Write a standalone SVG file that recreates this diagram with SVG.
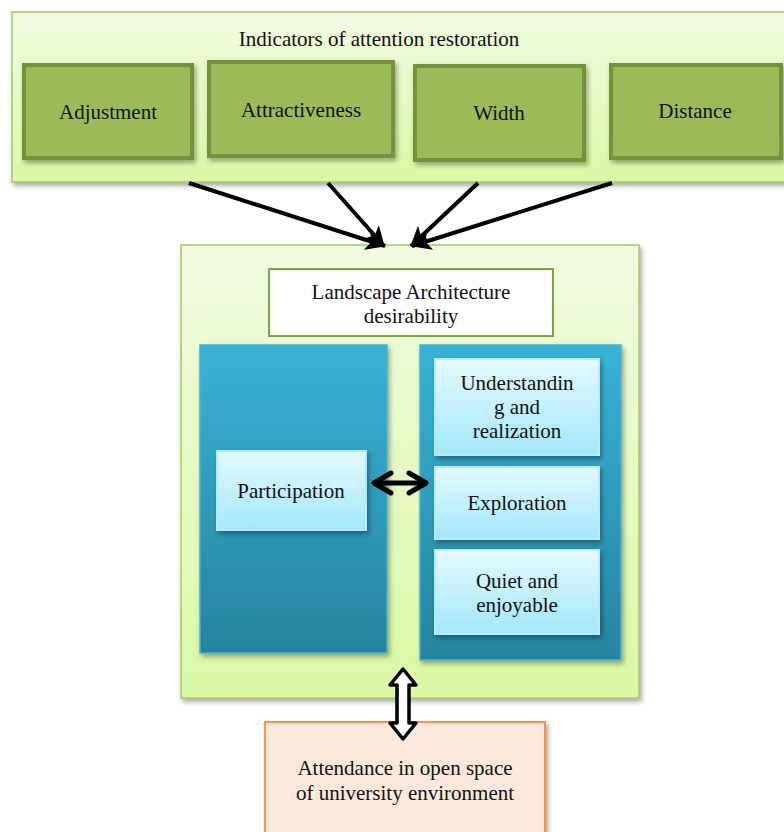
<svg xmlns="http://www.w3.org/2000/svg" width="784" height="832" viewBox="0 0 784 832">
<defs>
<linearGradient id="gGreen" x1="0" y1="0" x2="0" y2="1"><stop offset="0" stop-color="#f1fbe1"/><stop offset="1" stop-color="#daf9a4"/></linearGradient>
<linearGradient id="gBlue" x1="0" y1="0" x2="0" y2="1"><stop offset="0" stop-color="#38b3d7"/><stop offset="1" stop-color="#26839f"/></linearGradient>
<linearGradient id="gLight" x1="0" y1="0" x2="0" y2="1"><stop offset="0" stop-color="#e4f9ff"/><stop offset="1" stop-color="#a3e8fb"/></linearGradient>
<filter id="sh" x="-10%" y="-10%" width="130%" height="130%"><feDropShadow dx="2" dy="3" stdDeviation="2.5" flood-color="#000" flood-opacity="0.35"/></filter>
<marker id="ah" viewBox="0 0 10 10" refX="9.5" refY="5" markerWidth="5" markerHeight="5" orient="auto" markerUnits="strokeWidth"><path d="M0,0 L10,5 L0,10 L2.5,5 Z" fill="#000"/></marker>
</defs>
<style>
text{font-family:"Liberation Serif","Times New Roman",serif;font-size:21px;fill:#111;text-anchor:middle}
.cont{fill:url(#gGreen);stroke:#a3c86a;stroke-width:1.5}
.ind{fill:#9bbb59;stroke:#75913b;stroke-width:4}
.blue{fill:url(#gBlue);stroke:#4cb0cc;stroke-width:1.5}
.lt{fill:url(#gLight);stroke:#b6ecfa;stroke-width:2}
.conn{stroke:#000;stroke-width:4;fill:none}
</style>
<g id="indicators">
<rect class="cont" x="12" y="12" width="780" height="170" filter="url(#sh)"/>
<text x="379" y="46">Indicators of attention restoration</text>
</g>
<g id="adjustment"><rect class="ind" x="24" y="65" width="168" height="93" filter="url(#sh)"/><text x="108" y="119">Adjustment</text></g>
<g id="attractiveness"><rect class="ind" x="209" y="62" width="184" height="94" filter="url(#sh)"/><text x="301" y="117">Attractiveness</text></g>
<g id="width"><rect class="ind" x="415" y="66" width="169" height="94" filter="url(#sh)"/><text x="499" y="120">Width</text></g>
<g id="distance"><rect class="ind" x="611" y="65" width="170" height="93" filter="url(#sh)"/><text x="695" y="118">Distance</text></g>
<g id="desirability-container">
<rect class="cont" x="181" y="245" width="458" height="453" filter="url(#sh)"/>
</g>
<g id="desirability"><rect x="269" y="269" width="284" height="67" fill="#fff" stroke="#77a83c" stroke-width="2"/><text x="411" y="299">Landscape Architecture</text><text x="411" y="323">desirability</text></g>
<g id="left-panel"><rect class="blue" x="200" y="345" width="187" height="308" filter="url(#sh)"/></g>
<g id="right-panel"><rect class="blue" x="420" y="345" width="201" height="315" filter="url(#sh)"/></g>
<g id="participation"><rect class="lt" x="217" y="451" width="149" height="79" filter="url(#sh)"/><text x="291" y="498">Participation</text></g>
<g id="understanding"><rect class="lt" x="435" y="359" width="164" height="96" filter="url(#sh)"/><text x="517" y="390">Understandin</text><text x="517" y="414">g and</text><text x="517" y="438">realization</text></g>
<g id="exploration"><rect class="lt" x="435" y="467" width="164" height="72" filter="url(#sh)"/><text x="517" y="510">Exploration</text></g>
<g id="quiet"><rect class="lt" x="435" y="550" width="164" height="84" filter="url(#sh)"/><text x="517" y="588">Quiet and</text><text x="517" y="612">enjoyable</text></g>
<g id="attendance"><rect x="265" y="722" width="280" height="115" fill="#fde9db" stroke="#f79646" stroke-width="2" filter="url(#sh)"/><text x="405" y="775">Attendance in open space</text><text x="405" y="800">of university environment</text></g>
<g id="connectors">
<line class="conn" x1="189" y1="183" x2="385" y2="246" marker-end="url(#ah)"/>
<line class="conn" x1="328" y1="183" x2="384" y2="246" marker-end="url(#ah)"/>
<line class="conn" x1="478" y1="183" x2="411" y2="246" marker-end="url(#ah)"/>
<line class="conn" x1="612" y1="183" x2="412" y2="246" marker-end="url(#ah)"/>
<g stroke="#000" stroke-width="5" fill="none" stroke-linecap="round" stroke-linejoin="round">
<line x1="375" y1="483" x2="425" y2="483"/>
<polyline points="391,473 374,483 391,493"/>
<polyline points="409,473 426,483 409,493"/>
</g>
<path d="M403,669 L416,685 L409,685 L409,723 L416,723 L403,739 L390,723 L397,723 L397,685 L390,685 Z" fill="#fff" stroke="#000" stroke-width="3.5" stroke-linejoin="round"/>
</g>
</svg>
